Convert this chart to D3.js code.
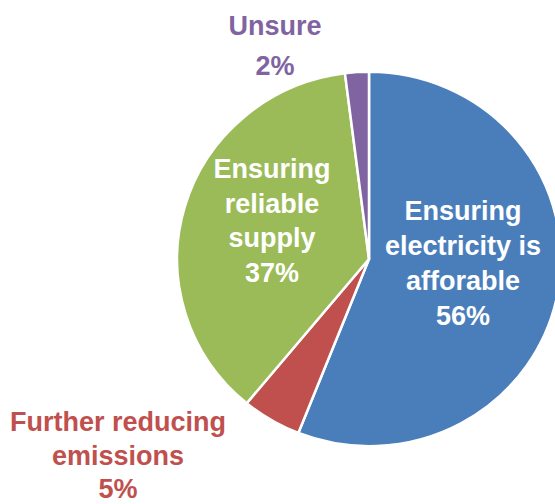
<!DOCTYPE html>
<html>
<head>
<meta charset="utf-8">
<script src="https://cdn.jsdelivr.net/npm/d3@7"></script>
<style>
  html, body { margin: 0; padding: 0; background: #fff; overflow: hidden; }
  svg { display: block; }
  text { font-family: "Liberation Sans", Arial, Helvetica, sans-serif; font-weight: bold; }
</style>
</head>
<body>
<svg id="chart" width="555" height="504"></svg>
<script>
const categories = ["Ensuring electricity is afforable", "Further reducing emissions", "Ensuring reliable supply", "Unsure"];
const values = [56, 5, 37, 2];
const labelLines = [
  ["Ensuring", "electricity is", "afforable", "56%"],
  ["Further reducing", "emissions", "5%"],
  ["Ensuring", "reliable", "supply", "37%"],
  ["Unsure", "2%"]
];
const colors = ["#4a7ebb", "#c0504d", "#9bbb59", "#8064a2"];

const svg = d3.select("#chart");
const cx = 369, cy = 259, r = 190;

const pie = d3.pie().sort(null).value(d => d.value);
const data = pie(categories.map((c, i) => ({ name: c, value: values[i], lines: labelLines[i] })));
const arc = d3.arc().innerRadius(0).outerRadius(r);

const g = svg.append("g").attr("transform", `translate(${cx},${cy}) scale(1.01,0.985)`);
g.selectAll("path")
  .data(data)
  .join("path")
  .attr("d", arc)
  .attr("fill", (d, i) => colors[i])
  .attr("stroke", "#fff")
  .attr("stroke-width", 2.5)
  .attr("stroke-linejoin", "round");

const labelPos = [
  { x: 463, y: 220, fill: "#fff", dy: 35 },
  { x: 118, y: 431, fill: "#c0504d", dy: 33.5 },
  { x: 272, y: 178, fill: "#fff", dy: 34.7 },
  { x: 275, y: 35, fill: "#8064a2", dy: 40 }
];

data.forEach((d, i) => {
  const p = labelPos[i];
  const t = svg.append("text")
    .attr("text-anchor", "middle")
    .attr("fill", p.fill)
    .attr("font-size", 27);
  d.data.lines.forEach((line, j) => {
    t.append("tspan")
      .attr("x", p.x)
      .attr("y", p.y + j * p.dy)
      .text(line);
  });
});
</script>
</body>
</html>
